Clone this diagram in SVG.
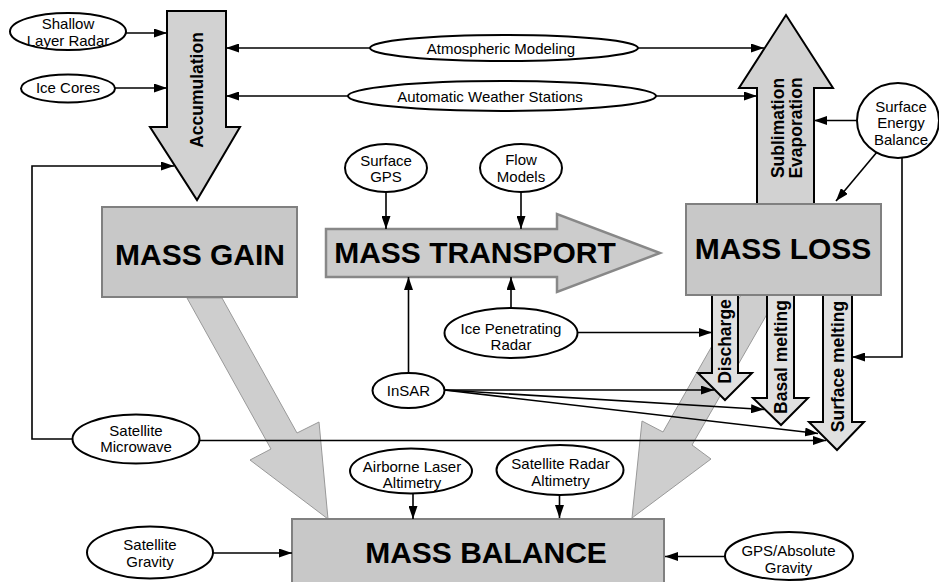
<svg xmlns="http://www.w3.org/2000/svg" width="939" height="582" viewBox="0 0 939 582">
<style>
.bg{fill:#ffffff}
.ell{fill:#ffffff;stroke:#000;stroke-width:2}
.lbl{font-family:"Liberation Sans",Arial,Helvetica,sans-serif;font-size:15px;fill:#000;text-anchor:middle}
.big{font-family:"Liberation Sans",Arial,Helvetica,sans-serif;font-size:30px;font-weight:bold;fill:#000;text-anchor:middle}
.vt{font-family:"Liberation Sans",Arial,Helvetica,sans-serif;font-size:17.5px;font-weight:bold;fill:#000;text-anchor:middle}
.box{fill:#c8c8c8;stroke:#808080;stroke-width:2}
.flow{fill:#d2d2d2;stroke:#000;stroke-width:2;stroke-linejoin:miter}
.flow2{fill:#e0e0e0;stroke:#000;stroke-width:2;stroke-linejoin:miter}
.diag{fill:#cecece;stroke:#999;stroke-width:1}
.tr{fill:#cccccc;stroke:#888;stroke-width:2.5}
.con{fill:none;stroke:#000;stroke-width:1.6}
</style>
<defs>
<marker id="ah" markerUnits="userSpaceOnUse" markerWidth="13" markerHeight="9" refX="13" refY="4.5" orient="auto-start-reverse">
<path d="M0,0 L13,4.5 L0,9 z" fill="#000"/>
</marker>
</defs>
<rect class="bg" x="0" y="0" width="939" height="582"/>

<g id="diagonal-flows">
<polygon class="diag" points="187,298 222,298 297,433 319,422 328,519 250,460 271,449"/>
<polygon class="diag" points="741,295 778,295 692,445 711,459 632,518 642,421 663,432"/>
</g>

<g id="accumulation">
<polygon class="flow" points="167,11 226,11 226,127 240,127 197,200 150,127 167,127"/>
<text class="vt" transform="translate(203,90) rotate(-90)">Accumulation</text>
</g>

<g id="sublimation">
<polygon class="flow" points="757,210 757,88 739,88 786,15 833,88 814,88 814,210"/>
<text class="vt" transform="translate(784,128) rotate(-90)">Sublimation</text>
<text class="vt" transform="translate(802,128) rotate(-90)">Evaporation</text>
</g>

<g id="discharge">
<polygon class="flow2" points="712,290 738,290 738,373 752,373 725,400 698,373 712,373"/>
<text class="vt" transform="translate(731,341.5) rotate(-90)">Discharge</text>
</g>
<g id="basal-melting">
<polygon class="flow2" points="767,290 794,290 794,398 808,398 781,425 753,398 767,398"/>
<text class="vt" transform="translate(787,357) rotate(-90)">Basal melting</text>
</g>
<g id="surface-melting">
<polygon class="flow2" points="823,290 852,290 852,422 864,422 837,450 809,422 823,422"/>
<text class="vt" transform="translate(844,366.5) rotate(-90)">Surface melting</text>
</g>

<g id="mass-gain">
<rect class="box" x="102" y="207" width="195" height="90"/>
<text class="big" x="200" y="265">MASS GAIN</text>
</g>

<g id="mass-loss">
<rect class="box" x="686" y="204" width="195" height="91"/>
<text class="big" x="783" y="259">MASS LOSS</text>
</g>

<g id="mass-transport">
<polygon class="tr" points="326,229 557,229 557,214 660,253 557,292 557,277 326,277"/>
<text class="big" x="475" y="263">MASS TRANSPORT</text>
</g>

<g id="mass-balance">
<rect class="box" x="292" y="519" width="372" height="80"/>
<text class="big" x="486" y="563">MASS BALANCE</text>
</g>

<g id="connectors">
<line class="con" x1="126" y1="33" x2="167" y2="33" marker-end="url(#ah)"/>
<line class="con" x1="115" y1="88" x2="167" y2="88" marker-end="url(#ah)"/>
<line class="con" x1="370" y1="48" x2="226" y2="48" marker-end="url(#ah)"/>
<line class="con" x1="638" y1="48" x2="764" y2="48" marker-end="url(#ah)"/>
<line class="con" x1="348" y1="96" x2="226" y2="96" marker-end="url(#ah)"/>
<line class="con" x1="656" y1="96" x2="757" y2="96" marker-end="url(#ah)"/>
<line class="con" x1="857" y1="120.5" x2="814" y2="120.5" marker-end="url(#ah)"/>
<line class="con" x1="877" y1="152" x2="836" y2="201" marker-end="url(#ah)"/>
<polyline class="con" points="902,158 902,357 852,357" marker-end="url(#ah)"/>
<line class="con" x1="386" y1="192" x2="386" y2="229" marker-end="url(#ah)"/>
<line class="con" x1="521" y1="192" x2="521" y2="229" marker-end="url(#ah)"/>
<line class="con" x1="511" y1="308" x2="511" y2="277" marker-end="url(#ah)"/>
<line class="con" x1="577" y1="332.5" x2="712" y2="332.5" marker-end="url(#ah)"/>
<line class="con" x1="408.5" y1="373" x2="408.5" y2="277" marker-end="url(#ah)"/>
<line class="con" x1="444" y1="390" x2="714" y2="390" marker-end="url(#ah)"/>
<line class="con" x1="444" y1="390" x2="764" y2="409.5" marker-end="url(#ah)"/>
<line class="con" x1="444" y1="390" x2="818" y2="433.5" marker-end="url(#ah)"/>
<polyline class="con" points="73,439 32,439 32,166 174,166" marker-end="url(#ah)"/>
<line class="con" x1="200" y1="440.5" x2="826" y2="440.5" marker-end="url(#ah)"/>
<line class="con" x1="413" y1="493" x2="413" y2="519" marker-end="url(#ah)"/>
<line class="con" x1="559.5" y1="495" x2="559.5" y2="518" marker-end="url(#ah)"/>
<line class="con" x1="213" y1="553" x2="292" y2="553" marker-end="url(#ah)"/>
<line class="con" x1="725" y1="556.5" x2="665" y2="556.5" marker-end="url(#ah)"/>
</g>

<g id="shallow-layer-radar">
<ellipse class="ell" cx="68" cy="31.5" rx="58" ry="18.5"/>
<text class="lbl" x="68" y="29">Shallow</text>
<text class="lbl" x="68" y="46">Layer Radar</text>
</g>
<g id="ice-cores">
<ellipse class="ell" cx="68" cy="88.5" rx="47" ry="14"/>
<text class="lbl" x="68" y="93">Ice Cores</text>
</g>
<g id="atmospheric-modeling">
<ellipse class="ell" cx="504" cy="48" rx="134" ry="13"/>
<text class="lbl" x="501" y="54">Atmospheric Modeling</text>
</g>
<g id="automatic-weather-stations">
<ellipse class="ell" cx="502" cy="96" rx="154" ry="15"/>
<text class="lbl" x="490" y="102">Automatic Weather Stations</text>
</g>
<g id="surface-energy-balance">
<ellipse class="ell" cx="898" cy="120.5" rx="41" ry="37.5"/>
<text class="lbl" x="901" y="111.5">Surface</text>
<text class="lbl" x="901" y="128">Energy</text>
<text class="lbl" x="901" y="144.5">Balance</text>
</g>
<g id="surface-gps">
<ellipse class="ell" cx="386" cy="168" rx="41" ry="24"/>
<text class="lbl" x="386" y="165.5">Surface</text>
<text class="lbl" x="386" y="181.5">GPS</text>
</g>
<g id="flow-models">
<ellipse class="ell" cx="521" cy="168" rx="41" ry="24"/>
<text class="lbl" x="521" y="165">Flow</text>
<text class="lbl" x="521" y="181.5">Models</text>
</g>
<g id="ice-penetrating-radar">
<ellipse class="ell" cx="511" cy="333" rx="66.5" ry="25"/>
<text class="lbl" x="511" y="333.5">Ice Penetrating</text>
<text class="lbl" x="511" y="349.5">Radar</text>
</g>
<g id="insar">
<ellipse class="ell" cx="408.5" cy="390.5" rx="36" ry="17.5"/>
<text class="lbl" x="408.5" y="396">InSAR</text>
</g>
<g id="satellite-microwave">
<ellipse class="ell" cx="136" cy="439" rx="63.5" ry="24.5"/>
<text class="lbl" x="136" y="435.5">Satellite</text>
<text class="lbl" x="136" y="452">Microwave</text>
</g>
<g id="airborne-laser-altimetry">
<ellipse class="ell" cx="411" cy="471" rx="61" ry="22.5"/>
<text class="lbl" x="412" y="471.5">Airborne Laser</text>
<text class="lbl" x="412" y="488">Altimetry</text>
</g>
<g id="satellite-radar-altimetry">
<ellipse class="ell" cx="560" cy="470" rx="63.5" ry="25"/>
<text class="lbl" x="560.5" y="468.5">Satellite Radar</text>
<text class="lbl" x="560.5" y="485.5">Altimetry</text>
</g>
<g id="satellite-gravity">
<ellipse class="ell" cx="150" cy="552.5" rx="63" ry="26"/>
<text class="lbl" x="150" y="549.5">Satellite</text>
<text class="lbl" x="150" y="567">Gravity</text>
</g>
<g id="gps-absolute-gravity">
<ellipse class="ell" cx="789" cy="556" rx="64" ry="24"/>
<text class="lbl" x="788.5" y="555.5">GPS/Absolute</text>
<text class="lbl" x="788.5" y="572.5">Gravity</text>
</g>
</svg>
